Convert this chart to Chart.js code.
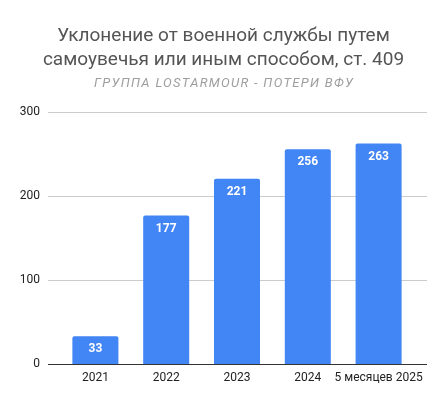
<!DOCTYPE html>
<html>
<head>
<meta charset="utf-8">
<script src="https://cdn.jsdelivr.net/npm/chart.js@4"></script>
<style>
  html, body { margin: 0; padding: 0; background: #fff; }
  #wrap { width: 447px; height: 405px; }
</style>
</head>
<body>
<div id="wrap"><canvas id="myChart"></canvas></div>
<script>
const TITLE_LINES = ["Уклонение от военной службы путем", "самоувечья или иным способом, ст. 409"];
const SUBTITLE = "ГРУППА LOSTARMOUR - ПОТЕРИ ВФУ";
const CATEGORIES = ["2021", "2022", "2023", "2024", "5 месяцев 2025"];
const VALUES = [33, 177, 221, 256, 263];
const Y_TICKS = [0, 100, 200, 300];

// gridlines a bit wider than the bar area, like the original
const gridPlugin = {
    id: 'wideGrid',
    beforeDatasetsDraw(chart) {
        const ctx = chart.ctx, y = chart.scales.y, area = chart.chartArea;
        ctx.save();
        Y_TICKS.forEach(function (v) {
            const py = Math.round(y.getPixelForValue(v)) + 0.5;
            ctx.strokeStyle = v === 0 ? '#333333' : '#cccccc';
            ctx.lineWidth = 1;
            ctx.beginPath();
            ctx.moveTo(area.left - 12, py);
            ctx.lineTo(area.right + 13, py);
            ctx.stroke();
        });
        ctx.restore();
    }
};

const labelPlugin = {
    id: 'barLabels',
    afterDatasetsDraw(chart) {
        const ctx = chart.ctx;
        ctx.save();
        ctx.fillStyle = '#ffffff';
        ctx.font = 'bold 12px Roboto';
        ctx.textAlign = 'center';
        ctx.textBaseline = 'middle';
        chart.getDatasetMeta(0).data.forEach(function (bar, i) {
            ctx.fillText(String(VALUES[i]), bar.x, bar.y + 13);
        });
        ctx.restore();
    }
};

// subtitle is letter-spaced in the original; the built-in one only reserves the room
const subtitlePlugin = {
    id: 'spacedSubtitle',
    afterDraw(chart) {
        const box = chart.boxes.find(b => b.options && b.options.text === SUBTITLE);
        if (!box) return;
        const ctx = chart.ctx;
        ctx.save();
        ctx.font = 'italic 13px Roboto';
        ctx.letterSpacing = '1.3px';
        ctx.fillStyle = '#9e9e9e';
        ctx.textAlign = 'center';
        ctx.textBaseline = 'middle';
        ctx.fillText(SUBTITLE, chart.width / 2 + 0.6, (box.top + box.bottom - box.options.padding.bottom) / 2);
        ctx.restore();
    }
};

new Chart(document.getElementById('myChart'), {
    type: 'bar',
    data: {
        labels: CATEGORIES,
        datasets: [{
            data: VALUES,
            backgroundColor: '#4285f4',
            borderRadius: { topLeft: 2, topRight: 2 },
            borderSkipped: 'bottom',
            categoryPercentage: 1,
            barPercentage: 0.65
        }]
    },
    options: {
        responsive: true,
        maintainAspectRatio: false,
        animation: false,
        devicePixelRatio: 1,
        layout: { padding: 0 },
        plugins: {
            legend: { display: false },
            tooltip: { enabled: false },
            title: {
                display: true,
                text: TITLE_LINES,
                color: '#555555',
                font: { family: 'Roboto', size: 19, weight: 'normal', lineHeight: 1.26 },
                padding: { top: 24, bottom: 4 }
            },
            subtitle: {
                display: true,
                text: SUBTITLE,
                color: 'rgba(0,0,0,0)',
                font: { family: 'Roboto', size: 13, style: 'italic' },
                padding: { top: 0, bottom: 21 }
            }
        },
        scales: {
            x: {
                offset: true,
                grid: { display: false, drawTicks: false },
                border: { display: false },
                ticks: { color: '#222222', font: { family: 'Roboto', size: 12 }, padding: 7, maxRotation: 0, autoSkip: false },
                afterFit: function (s) { s.height = 41; }
            },
            y: {
                min: 0,
                max: 300,
                afterBuildTicks: function (s) { s.ticks = Y_TICKS.map(v => ({ value: v })); },
                grid: { display: false, drawTicks: false },
                border: { display: false },
                ticks: { color: '#222222', font: { family: 'Roboto', size: 12 }, padding: 20 },
                afterFit: function (s) { s.width = 60; }
            },
            // empty right-hand margin so the title stays centred on the whole canvas
            yRight: {
                position: 'right',
                min: 0,
                max: 300,
                grid: { display: false, drawTicks: false },
                border: { display: false },
                ticks: { display: false },
                afterFit: function (s) { s.width = 33; }
            }
        }
    },
    plugins: [gridPlugin, labelPlugin, subtitlePlugin]
});
</script>
</body>
</html>
